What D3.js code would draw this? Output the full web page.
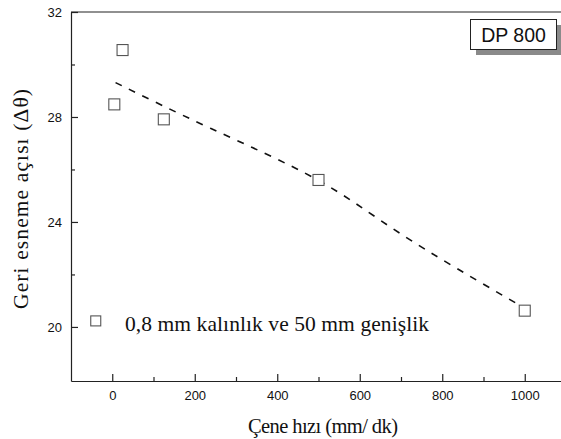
<!DOCTYPE html>
<html>
<head>
<meta charset="utf-8">
<script src="https://cdn.jsdelivr.net/npm/d3@7"></script>
<style>
  body { margin: 0; background: #fff; }
  svg { display: block; }
</style>
</head>
<body>
<svg id="chart"></svg>
<script>
// measured values
var speeds = [5, 25, 125, 500, 1000];
var angles = [28.48, 30.55, 27.91, 25.6, 20.62];

// dashed fit curve
var fitSpeeds = [8, 238, 498, 701, 986];
var fitAngles = [29.31, 27.57, 25.6, 23.53, 20.84];

var xTicks = [0, 200, 400, 600, 800, 1000];
var xMinor = [100, 300, 500, 700, 900];
var yTicks = [20, 24, 28, 32];
var yMinor = [22, 26, 30];

var width = 561, height = 439;
var margin = { top: 12, left: 71, bottom: 381 };

var svg = d3.select('#chart')
	.attr('width', width)
	.attr('height', height);

var x = d3.scaleLinear().domain([-100, 1100]).range([margin.left, 566]);
var y = d3.scaleLinear().domain([17.94, 32]).range([margin.bottom, margin.top]);

var tickFont = 'Liberation Sans, Arial, sans-serif';
var serif = 'Liberation Serif, Times New Roman, serif';

// minor ticks first
svg.append('g')
	.attr('transform', 'translate(0,' + margin.bottom + ')')
	.call(d3.axisBottom(x).tickValues(xMinor).tickSize(-4).tickFormat(''))
	.call(function(g) { g.select('.domain').remove(); });

svg.append('g')
	.attr('transform', 'translate(' + margin.left + ',0)')
	.call(d3.axisLeft(y).tickValues(yMinor).tickSize(-4).tickFormat(''))
	.call(function(g) { g.select('.domain').remove(); });

var xAxis = svg.append('g')
	.attr('transform', 'translate(0,' + margin.bottom + ')')
	.call(d3.axisBottom(x).tickValues(xTicks).tickFormat(d3.format('d'))
		.tickSizeInner(-7).tickSizeOuter(0).tickPadding(10));

var yAxis = svg.append('g')
	.attr('transform', 'translate(' + margin.left + ',0)')
	.call(d3.axisLeft(y).tickValues(yTicks).tickFormat(d3.format('d'))
		.tickSizeInner(-7).tickSizeOuter(0).tickPadding(9));

svg.selectAll('.tick text')
	.attr('font-family', tickFont)
	.attr('font-size', 13)
	.attr('fill', '#111');
svg.selectAll('.domain, .tick line').attr('stroke', '#222').attr('stroke-width', 1.2);

// top frame line
svg.append('line')
	.attr('x1', margin.left).attr('x2', 566)
	.attr('y1', margin.top).attr('y2', margin.top)
	.attr('stroke', '#222').attr('stroke-width', 1.2);

// fit curve
var fit = fitSpeeds.map(function(d, i) { return [d, fitAngles[i]]; });
svg.append('path')
	.datum(fit)
	.attr('fill', 'none')
	.attr('stroke', '#111')
	.attr('stroke-width', 1.6)
	.attr('stroke-dasharray', '7,8')
	.attr('d', d3.line()
		.x(function(d) { return x(d[0]); })
		.y(function(d) { return y(d[1]); })
		.curve(d3.curveNatural));

// points
var s = 11;
svg.selectAll('.pt')
	.data(speeds)
	.enter()
	.append('rect')
	.attr('class', 'pt')
	.attr('x', function(d) { return x(d) - s / 2; })
	.attr('y', function(d, i) { return y(angles[i]) - s / 2; })
	.attr('width', s).attr('height', s)
	.attr('fill', '#fff')
	.attr('stroke', '#555')
	.attr('stroke-width', 1.1);

// legend
svg.append('rect')
	.attr('x', x(-40) - 5).attr('y', y(20.23) - 5)
	.attr('width', 10).attr('height', 10)
	.attr('fill', '#fff').attr('stroke', '#555').attr('stroke-width', 1.1);
svg.append('text')
	.attr('x', 125).attr('y', 331)
	.attr('font-family', serif)
	.attr('font-size', 21.5)
	.attr('textLength', 304)
	.attr('fill', '#111')
	.text('0,8 mm kalınlık ve 50 mm genişlik');

// DP 800 box
svg.append('rect')
	.attr('x', 476).attr('y', 25).attr('width', 86).attr('height', 30)
	.attr('fill', '#8a8a8a');
svg.append('rect')
	.attr('x', 470.5).attr('y', 19.5).attr('width', 86).attr('height', 30)
	.attr('fill', '#fff').attr('stroke', '#222').attr('stroke-width', 1);
svg.append('text')
	.attr('x', 513.5).attr('y', 42)
	.attr('text-anchor', 'middle')
	.attr('font-family', tickFont)
	.attr('font-size', 19.5)
	.attr('fill', '#111')
	.text('DP 800');

// axis titles
svg.append('text')
	.attr('x', 323).attr('y', 433)
	.attr('text-anchor', 'middle')
	.attr('font-family', serif)
	.attr('font-size', 20.5)
	.attr('textLength', 150)
	.attr('fill', '#111')
	.text('Çene hızı (mm/ dk)');

svg.append('text')
	.attr('transform', 'translate(28,199) rotate(-90)')
	.attr('text-anchor', 'middle')
	.attr('font-family', serif)
	.attr('font-size', 21.5)
	.attr('textLength', 220)
	.attr('fill', '#111')
	.text('Geri esneme açısı (Δθ)');
</script>
</body>
</html>
